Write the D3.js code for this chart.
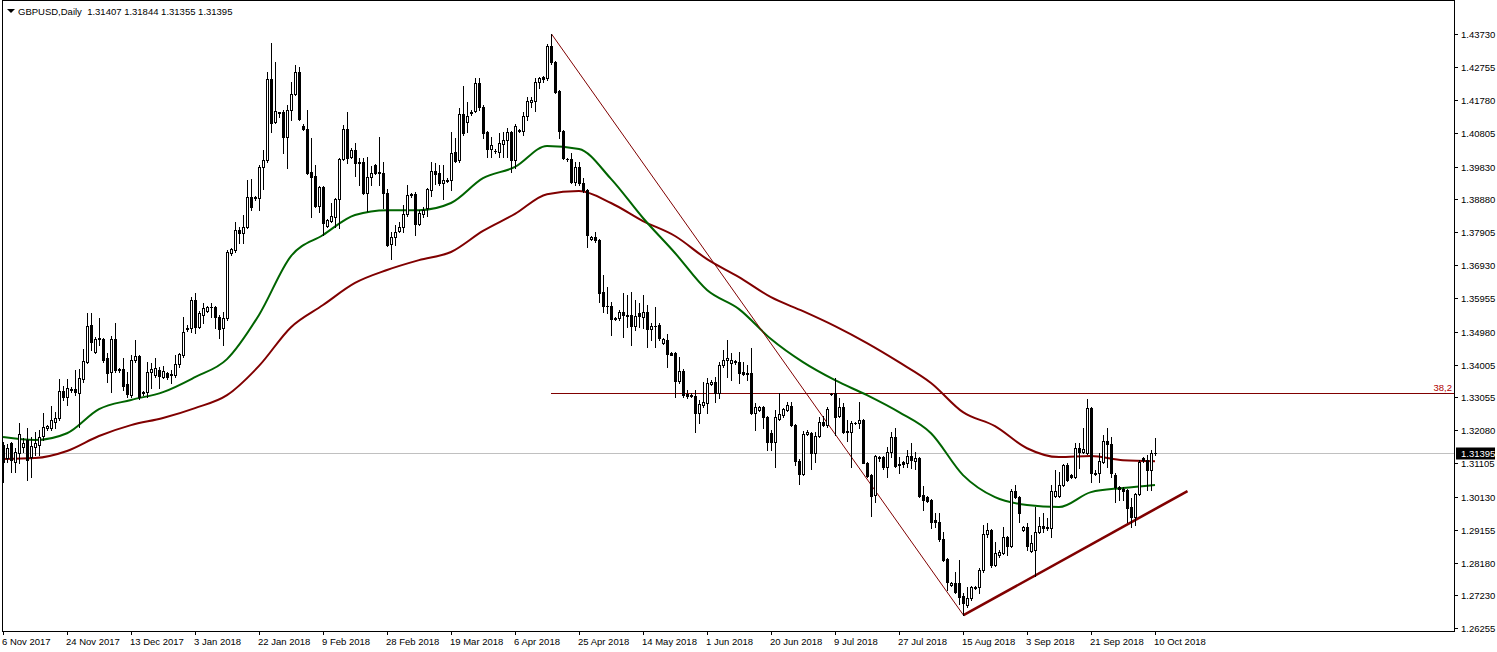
<!DOCTYPE html>
<html><head><meta charset="utf-8">
<script src="https://cdn.jsdelivr.net/npm/d3@7/dist/d3.min.js"></script>
<style>
html,body{margin:0;padding:0;background:#fff;overflow:hidden}
svg{display:block;font-family:"Liberation Sans",Arial,sans-serif}
</style></head><body>
<svg id="c" width="1497" height="652"></svg>
<script>
const chartTitle = "GBPUSD,Daily";
const lastBarText = "1.31407 1.31844 1.31355 1.31395";

const openP = [
1.3164,1.3126,1.3170,1.3114,1.3141,1.3158,1.3179,1.3129,1.3158,1.3164,
1.3191,1.3214,1.3214,1.3232,1.3244,1.3323,1.3305,1.3327,1.3329,1.3317,
1.3358,1.3408,1.3517,1.3438,1.3476,1.3476,1.3420,1.3379,1.3476,1.3385,
1.3388,1.3344,1.3311,1.3414,1.3426,1.3317,1.3320,1.3379,1.3370,1.3385,
1.3364,1.3376,1.3370,1.3370,1.3402,1.3429,1.3505,1.3508,1.3591,1.3511,
1.3547,1.3558,1.3570,1.3570,1.3541,1.3508,1.3538,1.3729,1.3738,1.3797,
1.3788,1.3805,1.3894,1.3891,1.3891,1.3982,1.4002,1.4241,1.4114,1.4141,
1.4144,1.4070,1.4149,1.4197,1.4261,1.4102,1.4094,1.3967,1.3955,1.3867,
1.3923,1.3808,1.3823,1.3835,1.3888,1.4005,1.4094,1.4011,1.4032,1.3994,
1.3997,1.3905,1.3952,1.3988,1.3964,1.3964,1.3905,1.3755,1.3776,1.3794,
1.3805,1.3844,1.3899,1.3902,1.3814,1.3844,1.3861,1.3914,1.3970,1.3964,
1.3935,1.3944,1.3944,1.4026,1.4002,1.4138,1.4114,1.4141,1.4147,1.4229,
1.4158,1.4085,1.4035,1.4029,1.4026,1.4049,1.4061,1.4085,1.4002,1.4091,
1.4088,1.4132,1.4173,1.4176,1.4232,1.4247,1.4244,1.4338,1.4291,1.4205,
1.4088,1.4005,1.4005,1.3938,1.3982,1.3935,1.3914,1.3770,1.3776,1.3767,
1.3614,1.3573,1.3573,1.3536,1.3538,1.3555,1.3547,1.3547,1.3514,1.3552,
1.3541,1.3555,1.3505,1.3514,1.3517,1.3464,1.3473,1.3435,1.3435,1.3352,
1.3382,1.3314,1.3311,1.3308,1.3258,1.3282,1.3288,1.3344,1.3350,1.3317,
1.3400,1.3414,1.3405,1.3411,1.3408,1.3379,1.3376,1.3376,1.3258,1.3267,
1.3276,1.3247,1.3200,1.3173,1.3241,1.3252,1.3267,1.3279,1.3223,1.3117,
1.3079,1.3197,1.3200,1.3141,1.3191,1.3232,1.3223,1.3314,1.3317,1.3249,
1.3276,1.3202,1.3202,1.3229,1.3229,1.3238,1.3111,1.3076,1.3017,1.3129,
1.3129,1.3100,1.3144,1.3188,1.3108,1.3114,1.3111,1.3132,1.3117,1.3126,
1.3017,1.3011,1.3002,1.2944,1.2938,1.2888,1.2829,1.2752,1.2758,1.2758,
1.2720,1.2694,1.2714,1.2747,1.2747,1.2797,1.2902,1.2914,1.2811,1.2841,
1.2847,1.2894,1.2867,1.3029,1.3011,1.2914,1.2923,1.2852,1.2855,1.2908,
1.2926,1.2923,1.2920,1.3014,1.3014,1.3046,1.3105,1.3076,1.3070,1.3155,
1.3144,1.3141,1.3273,1.3082,1.3082,1.3114,1.3176,1.3167,1.3076,1.3041,
1.3035,1.3032,1.2982,1.2952,1.3020,1.3126,1.3120,1.3091,1.31407];

const highP = [
1.3173,1.3167,1.3173,1.3155,1.3229,1.3185,1.3214,1.3188,1.3202,1.3208,
1.3258,1.3223,1.3279,1.3261,1.3358,1.3338,1.3358,1.3335,1.3385,1.3388,
1.3447,1.3552,1.3552,1.3482,1.3538,1.3479,1.3435,1.3485,1.3523,1.3391,
1.3420,1.3379,1.3429,1.3473,1.3429,1.3323,1.3408,1.3405,1.3420,1.3394,
1.3397,1.3379,1.3385,1.3429,1.3435,1.3541,1.3517,1.3599,1.3611,1.3558,
1.3582,1.3573,1.3582,1.3573,1.3547,1.3555,1.3738,1.3744,1.3820,1.3805,
1.3841,1.3944,1.3947,1.3897,1.3988,1.4032,1.4261,1.4346,1.4291,1.4144,
1.4149,1.4164,1.4232,1.4282,1.4276,1.4108,1.4149,1.4067,1.3988,1.3926,
1.3926,1.3829,1.3876,1.3891,1.4008,1.4105,1.4144,1.4038,1.4052,1.4008,
1.4008,1.4011,1.3985,1.3991,1.4070,1.3997,1.3917,1.3791,1.3811,1.3820,
1.3870,1.3929,1.3905,1.3908,1.3855,1.3864,1.3920,1.3997,1.3994,1.3988,
1.3988,1.3949,1.4085,1.4067,1.4155,1.4220,1.4173,1.4149,1.4244,1.4244,
1.4164,1.4088,1.4070,1.4035,1.4082,1.4085,1.4097,1.4088,1.4108,1.4094,
1.4144,1.4188,1.4188,1.4244,1.4247,1.4249,1.4344,1.4373,1.4294,1.4208,
1.4091,1.4008,1.4023,1.3997,1.3997,1.3949,1.3917,1.3779,1.3791,1.3770,
1.3664,1.3629,1.3585,1.3541,1.3561,1.3611,1.3605,1.3614,1.3591,1.3582,
1.3605,1.3576,1.3523,1.3570,1.3523,1.3479,1.3491,1.3438,1.3438,1.3423,
1.3388,1.3326,1.3317,1.3326,1.3297,1.3350,1.3361,1.3355,1.3364,1.3408,
1.3444,1.3473,1.3435,1.3414,1.3438,1.3408,1.3400,1.3449,1.3288,1.3279,
1.3279,1.3249,1.3208,1.3267,1.3317,1.3273,1.3291,1.3291,1.3226,1.3123,
1.3205,1.3208,1.3202,1.3202,1.3247,1.3249,1.3276,1.3317,1.3361,1.3302,
1.3288,1.3238,1.3235,1.3232,1.3291,1.3241,1.3114,1.3079,1.3135,1.3132,
1.3132,1.3158,1.3202,1.3214,1.3129,1.3117,1.3149,1.3170,1.3144,1.3129,
1.3044,1.3014,1.3005,1.2964,1.2964,1.2908,1.2832,1.2761,1.2791,1.2826,
1.2729,1.2747,1.2749,1.2749,1.2802,1.2929,1.2935,1.2917,1.2879,1.2855,
1.2923,1.2897,1.3035,1.3046,1.3014,1.2926,1.2935,1.2899,1.2982,1.2952,
1.2964,1.2949,1.3046,1.3091,1.3085,1.3108,1.3111,1.3079,1.3170,1.3170,
1.3214,1.3300,1.3276,1.3091,1.3141,1.3194,1.3214,1.3188,1.3082,1.3044,
1.3041,1.3035,1.3008,1.3023,1.3120,1.3129,1.3135,1.3149,1.31844];

const lowP = [
1.3055,1.3114,1.3085,1.3085,1.3111,1.3144,1.3061,1.3070,1.3135,1.3135,
1.3179,1.3208,1.3208,1.3214,1.3238,1.3297,1.3282,1.3320,1.3311,1.3217,
1.3350,1.3405,1.3444,1.3435,1.3458,1.3408,1.3350,1.3320,1.3379,1.3379,
1.3326,1.3305,1.3305,1.3408,1.3300,1.3311,1.3305,1.3332,1.3364,1.3332,
1.3361,1.3358,1.3347,1.3364,1.3394,1.3423,1.3499,1.3497,1.3494,1.3508,
1.3523,1.3555,1.3541,1.3508,1.3479,1.3458,1.3532,1.3723,1.3732,1.3758,
1.3758,1.3802,1.3855,1.3885,1.3855,1.3917,1.3997,1.4085,1.4111,1.4129,
1.4023,1.3979,1.4120,1.4194,1.4120,1.4091,1.3961,1.3835,1.3864,1.3849,
1.3782,1.3805,1.3820,1.3805,1.3802,1.4002,1.3994,1.4008,1.3955,1.3929,
1.3902,1.3852,1.3929,1.3961,1.3929,1.3861,1.3749,1.3711,1.3752,1.3791,
1.3791,1.3838,1.3894,1.3782,1.3811,1.3835,1.3838,1.3897,1.3932,1.3929,
1.3888,1.3938,1.3914,1.3997,1.3997,1.4076,1.4085,1.4135,1.4144,1.4149,
1.4067,1.4011,1.4011,1.4023,1.4011,1.4011,1.4011,1.3967,1.3979,1.4085,
1.4076,1.4120,1.4158,1.4147,1.4214,1.4232,1.4238,1.4285,1.4199,1.4067,
1.4005,1.3999,1.3935,1.3929,1.3929,1.3908,1.3747,1.3767,1.3761,1.3585,
1.3555,1.3552,1.3488,1.3532,1.3532,1.3482,1.3511,1.3458,1.3502,1.3511,
1.3508,1.3452,1.3473,1.3452,1.3473,1.3461,1.3394,1.3429,1.3305,1.3347,
1.3305,1.3302,1.3305,1.3202,1.3229,1.3276,1.3258,1.3341,1.3291,1.3302,
1.3394,1.3364,1.3355,1.3402,1.3347,1.3370,1.3355,1.3255,1.3208,1.3264,
1.3214,1.3150,1.3150,1.3099,1.3238,1.3247,1.3264,1.3220,1.3105,1.3049,
1.3076,1.3194,1.3094,1.3114,1.3188,1.3220,1.3217,1.3311,1.3194,1.3247,
1.3200,1.3176,1.3099,1.3226,1.3214,1.3111,1.3070,1.2955,1.2996,1.3117,
1.3094,1.3070,1.3129,1.3100,1.3082,1.3100,1.3100,1.3097,1.3094,1.3011,
1.2973,1.2998,1.2920,1.2923,1.2882,1.2823,1.2738,1.2749,1.2729,1.2697,
1.2664,1.2688,1.2708,1.2741,1.2729,1.2791,1.2894,1.2805,1.2808,1.2835,
1.2844,1.2841,1.2864,1.3008,1.2938,1.2911,1.2855,1.2849,1.2779,1.2905,
1.2908,1.2914,1.2894,1.3011,1.3011,1.3044,1.3058,1.3067,1.3067,1.3097,
1.3141,1.3138,1.3055,1.3076,1.3055,1.3111,1.3100,1.3070,1.2996,1.3002,
1.3002,1.2938,1.2923,1.2929,1.3017,1.3114,1.3032,1.3032,1.31355];

const closeP = [
1.3114,1.3155,1.3120,1.3144,1.3197,1.3170,1.3120,1.3161,1.3170,1.3188,
1.3217,1.3220,1.3238,1.3244,1.3323,1.3305,1.3332,1.3329,1.3320,1.3361,
1.3411,1.3514,1.3467,1.3476,1.3479,1.3414,1.3376,1.3476,1.3385,1.3388,
1.3338,1.3314,1.3414,1.3426,1.3305,1.3320,1.3379,1.3388,1.3391,1.3367,
1.3382,1.3364,1.3373,1.3402,1.3432,1.3497,1.3508,1.3591,1.3511,1.3552,
1.3567,1.3570,1.3569,1.3541,1.3505,1.3538,1.3732,1.3741,1.3797,1.3788,
1.3805,1.3894,1.3864,1.3894,1.3982,1.4002,1.4241,1.4111,1.4147,1.4144,
1.4070,1.4149,1.4197,1.4261,1.4123,1.4094,1.3964,1.3952,1.3867,1.3923,
1.3817,1.3826,1.3838,1.3888,1.4005,1.4094,1.4008,1.4032,1.3994,1.3997,
1.3905,1.3952,1.3964,1.3964,1.3967,1.3905,1.3752,1.3776,1.3791,1.3805,
1.3844,1.3899,1.3902,1.3814,1.3847,1.3855,1.3917,1.3970,1.3961,1.3935,
1.3944,1.3942,1.4023,1.4000,1.4138,1.4082,1.4132,1.4144,1.4229,1.4158,
1.4082,1.4035,1.4047,1.4030,1.4052,1.4061,1.4085,1.4002,1.4102,1.4088,
1.4132,1.4176,1.4179,1.4232,1.4244,1.4241,1.4338,1.4291,1.4202,1.4088,
1.4008,1.4004,1.3938,1.3982,1.3935,1.3914,1.3782,1.3776,1.3767,1.3611,
1.3573,1.3574,1.3535,1.3538,1.3555,1.3547,1.3545,1.3514,1.3544,1.3544,
1.3555,1.3505,1.3514,1.3513,1.3479,1.3476,1.3432,1.3430,1.3352,1.3382,
1.3311,1.3308,1.3310,1.3258,1.3285,1.3291,1.3347,1.3350,1.3317,1.3400,
1.3414,1.3420,1.3414,1.3408,1.3376,1.3373,1.3372,1.3258,1.3276,1.3276,
1.3247,1.3173,1.3173,1.3247,1.3255,1.3270,1.3282,1.3223,1.3117,1.3079,
1.3197,1.3202,1.3141,1.3191,1.3232,1.3223,1.3270,1.3314,1.3247,1.3276,
1.3202,1.3205,1.3229,1.3230,1.3238,1.3111,1.3073,1.3014,1.3132,1.3127,
1.3100,1.3144,1.3188,1.3102,1.3106,1.3108,1.3132,1.3120,1.3126,1.3014,
1.3002,1.3000,1.2938,1.2938,1.2888,1.2826,1.2761,1.2758,1.2732,1.2717,
1.2700,1.2714,1.2747,1.2745,1.2797,1.2902,1.2914,1.2811,1.2847,1.2850,
1.2894,1.2867,1.3029,1.3011,1.2964,1.2923,1.2867,1.2876,1.2908,1.2926,
1.2920,1.2921,1.3029,1.3029,1.3046,1.3105,1.3061,1.3070,1.3155,1.3144,
1.3152,1.3273,1.3082,1.3080,1.3117,1.3176,1.3167,1.3082,1.3041,1.3035,
1.3029,1.2979,1.2952,1.3020,1.3114,1.3120,1.3091,1.3141,1.31395];

const dateTickBars = [0,16,32,48,64,80,96,112,128,144,160,176,192,208,224,240,256,272,288];
const dateTickLabels = ["6 Nov 2017","24 Nov 2017","13 Dec 2017","3 Jan 2018","22 Jan 2018","9 Feb 2018",
  "28 Feb 2018","19 Mar 2018","6 Apr 2018","25 Apr 2018","14 May 2018","1 Jun 2018","20 Jun 2018",
  "9 Jul 2018","27 Jul 2018","15 Aug 2018","3 Sep 2018","21 Sep 2018","10 Oct 2018"];
const priceTicks = [1.43730,1.42755,1.41780,1.40805,1.39830,1.38880,1.37905,1.36930,1.35955,1.34980,
  1.34005,1.33055,1.32080,1.31105,1.30130,1.29155,1.28180,1.27230,1.26255];

const maBars = [0,8,16,24,32,40,48,56,64,72,80,88,96,104,112,120,128,136,144,152,160,168,176,184,192,200,208,216,224,232,240,248,256,264,272,280,288];
const maFast = [1.3188,1.3179,1.3199,1.3270,1.3297,1.3320,1.3364,1.3417,1.3547,1.3720,1.3782,1.3841,1.3855,1.3855,1.3876,1.3949,1.3982,1.4044,1.4035,1.3947,1.3832,1.3729,1.3620,1.3564,1.3476,1.3408,1.3355,1.3311,1.3261,1.3199,1.3076,1.3011,1.2988,1.2982,1.3026,1.3038,1.3047];
const maSlow = [1.3123,1.3126,1.3147,1.3191,1.3223,1.3244,1.3273,1.3311,1.3397,1.3511,1.3576,1.3641,1.3679,1.3708,1.3732,1.3794,1.3844,1.3902,1.3911,1.3876,1.3823,1.3779,1.3711,1.3658,1.3599,1.3558,1.3514,1.3464,1.3408,1.3347,1.3261,1.3220,1.3155,1.3129,1.3132,1.3120,1.3117];

const fibHigh = {bar:137, price:1.43730};
const fibLow  = {bar:240, price:1.26640};
const fibRatio = 0.382;
const fibLabel = "38,2";
const supportEnd = {bar:296, price:1.30290};
const lastPrice = 1.31395;

// ---------- layout ----------
const W = 1497, H = 652;
const plot = {left:2, top:0, right:1454, bottom:631};
const svg = d3.select("#c");

const x = d3.scaleLinear().domain([0, 288]).range([3, 1155]);
const y = d3.scaleLinear().domain([1.26255, 1.43730]).range([628.3, 34]);

svg.append("defs").append("clipPath").attr("id","clip")
  .append("rect").attr("x",plot.left+1).attr("y",plot.top).attr("width",plot.right-plot.left-1).attr("height",plot.bottom-plot.top);

const g = svg.append("g").attr("clip-path","url(#clip)");

// current price line
const yl = Math.round(y(lastPrice)) + 0.5;
g.append("line").attr("x1",plot.left).attr("x2",plot.right).attr("y1",yl).attr("y2",yl)
  .attr("stroke","#c0c0c0").attr("stroke-width",1);

// fibonacci 38.2 level
const fibLevel = fibLow.price + fibRatio*(fibHigh.price - fibLow.price);
const yf = Math.round(y(fibLevel)) + 0.5;
g.append("line").attr("x1",x(fibHigh.bar)).attr("x2",plot.right).attr("y1",yf).attr("y2",yf)
  .attr("stroke","#800000").attr("stroke-width",1);
svg.append("text").attr("x",plot.right-2).attr("y",yf-3).attr("text-anchor","end")
  .attr("font-size","9.5px").attr("fill","#b00000").text(fibLabel);

// moving averages
const line = d3.line().x(d=>x(d[0])).y(d=>y(d[1])).curve(d3.curveMonotoneX);
g.append("path").attr("d", line(maBars.map((b,i)=>[b, maSlow[i]])))
  .attr("fill","none").attr("stroke","#800000").attr("stroke-width",2);
g.append("path").attr("d", line(maBars.map((b,i)=>[b, maFast[i]])))
  .attr("fill","none").attr("stroke","#006400").attr("stroke-width",2);

// fib trend line (thin)
g.append("line").attr("x1",x(fibHigh.bar)+0.5).attr("y1",y(fibHigh.price))
  .attr("x2",x(fibLow.bar)+0.5).attr("y2",y(fibLow.price))
  .attr("stroke","#800000").attr("stroke-width",1);
// support trend line (thick)
g.append("line").attr("x1",x(fibLow.bar)+0.5).attr("y1",y(fibLow.price))
  .attr("x2",x(supportEnd.bar)+0.5).attr("y2",y(supportEnd.price))
  .attr("stroke","#800000").attr("stroke-width",2.6);

// candles
const bars = d3.range(openP.length);
const cg = g.append("g").attr("shape-rendering","crispEdges");
const cand = cg.selectAll("g").data(bars).join("g");
cand.append("rect")
  .attr("x", i=>Math.round(x(i))).attr("width",1)
  .attr("y", i=>Math.round(y(highP[i])))
  .attr("height", i=>Math.max(1, Math.round(y(lowP[i])) - Math.round(y(highP[i])) + 1))
  .attr("fill","#000");
cand.append("rect")
  .attr("x", i=>Math.round(x(i))-1).attr("width",3)
  .attr("y", i=>Math.round(y(Math.max(openP[i],closeP[i]))))
  .attr("height", i=>Math.round(y(Math.min(openP[i],closeP[i]))) - Math.round(y(Math.max(openP[i],closeP[i]))) + 1)
  .attr("fill","#000");
cand.filter(i=>closeP[i]>openP[i] && (Math.round(y(openP[i]))-Math.round(y(closeP[i])))>=2)
  .append("rect")
  .attr("x", i=>Math.round(x(i))).attr("width",1)
  .attr("y", i=>Math.round(y(closeP[i]))+1)
  .attr("height", i=>Math.round(y(openP[i])) - Math.round(y(closeP[i])) - 1)
  .attr("fill","#fff");

// frame
svg.append("rect").attr("x",plot.left+0.5).attr("y",plot.top+0.5)
  .attr("width",plot.right-plot.left).attr("height",plot.bottom-plot.top)
  .attr("fill","none").attr("stroke","#000").attr("stroke-width",1).attr("shape-rendering","crispEdges");

// price axis
const pa = svg.append("g");
priceTicks.forEach(v=>{
  const yy = Math.round(y(v)) + 0.5;
  pa.append("line").attr("x1",plot.right).attr("x2",plot.right+4).attr("y1",yy).attr("y2",yy)
    .attr("stroke","#000").attr("shape-rendering","crispEdges");
  pa.append("text").attr("x",plot.right+7).attr("y",yy).attr("dy","0.35em")
    .attr("font-size","9.5px").attr("fill","#000").text(d3.format(".5f")(v));
});
// current price box
pa.append("rect").attr("x",plot.right+2).attr("y",yl-6).attr("width",39).attr("height",12).attr("fill","#000");
pa.append("text").attr("x",plot.right+7).attr("y",yl).attr("dy","0.35em")
  .attr("font-size","9.5px").attr("fill","#fff").text(d3.format(".5f")(lastPrice));

// date axis
const da = svg.append("g");
dateTickBars.forEach((b,k)=>{
  const xx = Math.round(x(b)) + 0.5;
  da.append("line").attr("x1",xx).attr("x2",xx).attr("y1",plot.bottom).attr("y2",plot.bottom+4)
    .attr("stroke","#000").attr("shape-rendering","crispEdges");
  da.append("text").attr("x",xx-1.5).attr("y",plot.bottom+14)
    .attr("font-size","9.5px").attr("fill","#000").text(dateTickLabels[k]);
});

// title
svg.append("path").attr("d","M7,9L15,9L11,13Z").attr("fill","#000");
svg.append("text").attr("x",18).attr("y",14.5).attr("font-size","9.5px").attr("fill","#000")
  .attr("xml:space","preserve").text(chartTitle + "  " + lastBarText);
</script>
</body></html>
